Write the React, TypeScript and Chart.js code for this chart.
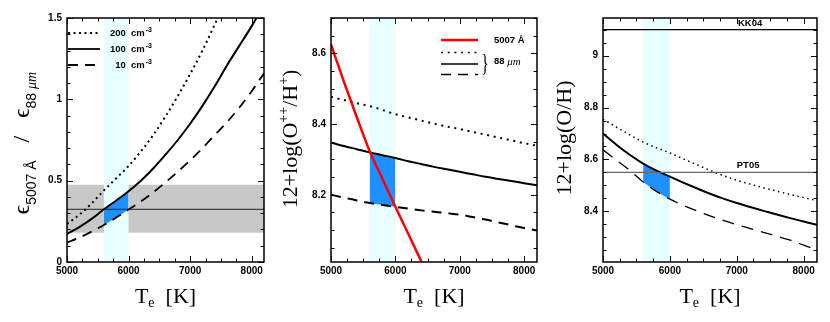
import React, { useEffect, useRef } from 'react';
import { Chart, registerables } from 'chart.js';
Chart.register(...registerables);

// ---------- data ----------
const temps = [5000, 5200, 5400, 5600, 5800, 6000, 6200, 6400, 6600, 6800, 7000, 7200, 7400, 7600, 7800, 8000, 8200];

// Panel 1: emissivity ratio
const ratio200 = [0.234, 0.29, 0.36, 0.44, 0.515, 0.59, 0.68, 0.78, 0.895, 1.02, 1.155, 1.3, 1.46, 1.63, 1.81, 2.0, 2.2];
const ratio100 = [0.172, 0.215, 0.265, 0.324, 0.378, 0.435, 0.5, 0.575, 0.66, 0.75, 0.85, 0.96, 1.08, 1.21, 1.33, 1.45, 1.58];
const ratio10 = [0.119, 0.15, 0.187, 0.228, 0.273, 0.322, 0.372, 0.428, 0.49, 0.555, 0.625, 0.7, 0.78, 0.86, 0.95, 1.05, 1.16];
const ratioObs = 0.324;
const ratioObsRange = [0.18, 0.475];
const teBand = [5600, 6000];

// Panel 2: 12+log(O++/H+)
const temps5007 = [5000, 5200, 5400, 5600, 5800, 6000, 6200, 6400, 6600];
const opp5007 = [8.625, 8.52, 8.42, 8.324, 8.245, 8.166, 8.09, 8.013, 7.94];
const opp200 = [8.477, 8.468, 8.459, 8.451, 8.44, 8.428, 8.419, 8.41, 8.401, 8.393, 8.386, 8.378, 8.37, 8.362, 8.354, 8.346, 8.339];
const opp100 = [8.348, 8.338, 8.329, 8.32, 8.312, 8.304, 8.295, 8.287, 8.279, 8.272, 8.265, 8.258, 8.251, 8.245, 8.239, 8.233, 8.227];
const opp10 = [8.2, 8.192, 8.184, 8.177, 8.171, 8.166, 8.161, 8.156, 8.152, 8.148, 8.144, 8.137, 8.13, 8.122, 8.114, 8.106, 8.099];

// Panel 3: 12+log(O/H)
const oh200 = [8.755, 8.725, 8.695, 8.667, 8.645, 8.625, 8.602, 8.58, 8.558, 8.538, 8.52, 8.505, 8.491, 8.478, 8.465, 8.453, 8.442];
const oh100 = [8.7, 8.657, 8.618, 8.584, 8.557, 8.534, 8.511, 8.489, 8.468, 8.449, 8.432, 8.417, 8.402, 8.388, 8.374, 8.361, 8.348];
const oh10 = [8.637, 8.597, 8.558, 8.513, 8.477, 8.447, 8.423, 8.402, 8.383, 8.365, 8.349, 8.334, 8.319, 8.304, 8.289, 8.27, 8.25];
const kk04 = 9.1;
const pt05 = 8.55;

// ticks
const xRange = [5000, 8200];
const xTickLabels = [5000, 6000, 7000, 8000];
const yTicks1 = [0, 0.5, 1, 1.5];
const yTicks2 = [8.2, 8.4, 8.6];
const yTicks3 = [8.4, 8.6, 8.8, 9];
const densityLabels = ['200', '100', '10'];

// ---------- helpers ----------
const pts = (xs: number[], ys: number[]) => xs.map((x, i) => ({ x, y: ys[i] }));
const bandPts = (ys: number[]) =>
  temps.map((x, i) => ({ x, y: ys[i] })).filter((p) => p.x >= teBand[0] && p.x <= teBand[1]);

const BLUE = 'rgb(30,144,255)';
const CYAN = 'rgb(232,255,255)';
const SANS = '"Liberation Sans", Arial, sans-serif';
const SERIF = '"Liberation Serif", "DejaVu Serif", serif';

type Seg = { t: string; f: string; dy?: number };

function drawRich(ctx: CanvasRenderingContext2D, segs: Seg[], cx: number, cy: number, rot: boolean) {
  ctx.save();
  ctx.translate(cx, cy);
  if (rot) ctx.rotate(-Math.PI / 2);
  let w = 0;
  for (const s of segs) {
    ctx.font = s.f;
    w += ctx.measureText(s.t).width;
  }
  let x = -w / 2;
  ctx.textAlign = 'left';
  ctx.textBaseline = 'alphabetic';
  ctx.fillStyle = '#000';
  for (const s of segs) {
    ctx.font = s.f;
    ctx.fillText(s.t, x, s.dy || 0);
    x += ctx.measureText(s.t).width;
  }
  ctx.restore();
}

type Spec = {
  width: number;
  left: number;
  rightPad: number;
  yMin: number;
  yMax: number;
  yTicks: number[];
  yMinor: number;
  yMajor: number;
  datasets: any[];
  grayBand?: number[];
  yTitle: Seg[];
  yTitleX: number;
  yTitleY: number;
  extra?: (ctx: CanvasRenderingContext2D, chart: any) => void;
};

function drawTicks(ctx: CanvasRenderingContext2D, chart: any, spec: Spec) {
  const a = chart.chartArea;
  const xs = chart.scales.x;
  const ys = chart.scales.y;
  ctx.save();
  ctx.strokeStyle = '#000';
  ctx.lineWidth = 1;
  const xMinor = 250;
  const xMajor = 1000;
  for (let k = Math.ceil(xRange[0] / xMinor); k <= Math.floor(xRange[1] / xMinor); k++) {
    const v = k * xMinor;
    const major = Math.abs(v / xMajor - Math.round(v / xMajor)) < 1e-6;
    const len = major ? 6 : 3.5;
    const px = Math.round(xs.getPixelForValue(v)) + 0.5;
    ctx.beginPath();
    ctx.moveTo(px, a.bottom);
    ctx.lineTo(px, a.bottom - len);
    ctx.moveTo(px, a.top);
    ctx.lineTo(px, a.top + len);
    ctx.stroke();
  }
  for (let k = Math.ceil(spec.yMin / spec.yMinor - 1e-6); k <= Math.floor(spec.yMax / spec.yMinor + 1e-6); k++) {
    const v = k * spec.yMinor;
    const major = Math.abs(v / spec.yMajor - Math.round(v / spec.yMajor)) < 1e-6;
    const len = major ? 6 : 3.5;
    const py = Math.round(ys.getPixelForValue(v)) + 0.5;
    ctx.beginPath();
    ctx.moveTo(a.left, py);
    ctx.lineTo(a.left + len, py);
    ctx.moveTo(a.right, py);
    ctx.lineTo(a.right - len, py);
    ctx.stroke();
  }
  ctx.lineWidth = 1.5;
  ctx.strokeRect(a.left, a.top, a.right - a.left, a.bottom - a.top);
  ctx.restore();
}

function makePanel(canvas: HTMLCanvasElement, spec: Spec) {
  const plugin = {
    id: 'panelDecor',
    beforeDatasetsDraw(chart: any) {
      const { ctx, chartArea: a } = chart;
      const xs = chart.scales.x;
      const ys = chart.scales.y;
      ctx.save();
      ctx.beginPath();
      ctx.rect(a.left, a.top, a.right - a.left, a.bottom - a.top);
      ctx.clip();
      if (spec.grayBand) {
        const y1 = ys.getPixelForValue(spec.grayBand[1]);
        const y0 = ys.getPixelForValue(spec.grayBand[0]);
        ctx.fillStyle = 'rgb(200,200,200)';
        ctx.fillRect(a.left, y1, a.right - a.left, y0 - y1);
      }
      const x0 = xs.getPixelForValue(teBand[0]);
      const x1 = xs.getPixelForValue(teBand[1]);
      ctx.fillStyle = CYAN;
      ctx.fillRect(x0, a.top, x1 - x0, a.bottom - a.top);
      ctx.restore();
    },
    afterDatasetsDraw(chart: any) {
      drawTicks(chart.ctx, chart, spec);
    },
    afterDraw(chart: any) {
      const ctx = chart.ctx;
      const a = chart.chartArea;
      const cx = (a.left + a.right) / 2;
      drawRich(
        ctx,
        [
          { t: 'T', f: `22px ${SERIF}` },
          { t: 'e', f: `14px ${SERIF}`, dy: 4 },
          { t: '  [K]', f: `22px ${SERIF}` },
        ],
        cx,
        303,
        false
      );
      drawRich(ctx, spec.yTitle, spec.yTitleX, spec.yTitleY, true);
      if (spec.extra) spec.extra(ctx, chart);
    },
  };

  return new Chart(canvas, {
    type: 'line',
    data: { datasets: spec.datasets },
    plugins: [plugin],
    options: {
      animation: false,
      responsive: false,
      maintainAspectRatio: false,
      parsing: false as any,
      layout: { padding: { left: 0, right: spec.rightPad, top: 18, bottom: 0 } },
      plugins: { legend: { display: false }, tooltip: { enabled: false } },
      elements: { point: { radius: 0 }, line: { cubicInterpolationMode: 'monotone' } },
      scales: {
        x: {
          type: 'linear',
          min: xRange[0],
          max: xRange[1],
          grid: { display: false, drawTicks: false },
          border: { display: false },
          afterFit: (s: any) => {
            s.height = 60;
          },
          afterBuildTicks: (s: any) => {
            s.ticks = xTickLabels.map((v) => ({ value: v }));
          },
          ticks: {
            autoSkip: false,
            maxRotation: 0,
            padding: 3,
            color: '#000',
            font: { family: SANS, size: 10, weight: 'bold' },
            callback: (v: any) => String(v),
          },
        },
        y: {
          type: 'linear',
          min: spec.yMin,
          max: spec.yMax,
          grid: { display: false, drawTicks: false },
          border: { display: false },
          afterFit: (s: any) => {
            s.width = spec.left;
          },
          afterBuildTicks: (s: any) => {
            s.ticks = spec.yTicks.map((v) => ({ value: v }));
          },
          ticks: {
            autoSkip: false,
            padding: 5,
            color: '#000',
            font: { family: SANS, size: 10, weight: 'bold' },
            callback: (v: any) => String(Math.round(v * 100) / 100),
          },
        },
      },
    } as any,
  });
}

function lineDs(data: any[], opts: any) {
  return { data, borderColor: '#000', borderWidth: 2, pointRadius: 0, fill: false, clip: 0, ...opts };
}

function fillPair(top: number[], bottom: number[]) {
  return [
    lineDs(bandPts(top), { borderWidth: 0, borderColor: 'rgba(0,0,0,0)', backgroundColor: BLUE, fill: '+1' }),
    lineDs(bandPts(bottom), { borderWidth: 0, borderColor: 'rgba(0,0,0,0)' }),
  ];
}

function legendLine(ctx: CanvasRenderingContext2D, x0: number, x1: number, y: number, dash: number[], width: number, color = '#000') {
  ctx.save();
  ctx.strokeStyle = color;
  ctx.lineWidth = width;
  ctx.setLineDash(dash);
  ctx.beginPath();
  ctx.moveTo(x0, y);
  ctx.lineTo(x1, y);
  ctx.stroke();
  ctx.restore();
}

const D1 = { dot: [2, 3.5], dash: [10, 7] };
const D2 = { dot: [2, 4.7], dash: [10, 7] };
const D3 = { dot: [1.5, 3.5], dash: [12, 8] };

export default function App() {
  const r1 = useRef<HTMLCanvasElement>(null);
  const r2 = useRef<HTMLCanvasElement>(null);
  const r3 = useRef<HTMLCanvasElement>(null);

  useEffect(() => {
    const c1 = makePanel(r1.current!, {
      width: 277,
      left: 67,
      rightPad: 13,
      yMin: 0,
      yMax: 1.5,
      yTicks: yTicks1,
      yMinor: 0.1,
      yMajor: 0.5,
      grayBand: ratioObsRange,
      yTitle: [
        { t: 'ϵ', f: `23px ${SERIF}` },
        { t: '5007 Å', f: `14px ${SANS}`, dy: 7 },
        { t: '   /   ', f: `24px ${SERIF}` },
        { t: 'ϵ', f: `23px ${SERIF}` },
        { t: '88 ', f: `14px ${SANS}`, dy: 7 },
        { t: 'μm', f: `italic 14px ${SERIF}`, dy: 7 },
      ],
      yTitleX: 29,
      yTitleY: 143,
      datasets: [
        lineDs(pts(temps, ratio200), { borderDash: D1.dot }),
        lineDs(pts(temps, ratio100), {}),
        lineDs(pts(temps, ratio10), { borderDash: D1.dash, borderWidth: 1.8 }),
        lineDs(pts(xRange, [ratioObs, ratioObs]), { borderWidth: 1, borderColor: '#222' }),
        ...fillPair(ratio100, ratio10),
      ],
      extra: (ctx) => {
        const ys = [33, 49, 65];
        const dashes = [D1.dot, [], D1.dash];
        ys.forEach((y, i) => {
          legendLine(ctx, 68, 100, y, dashes[i], 1.8);
          ctx.save();
          ctx.fillStyle = '#000';
          ctx.textBaseline = 'middle';
          ctx.textAlign = 'right';
          ctx.font = `bold 7px ${SANS}`;
          ctx.fillText('-3', 152, y - 3);
          const w = ctx.measureText('-3').width;
          ctx.font = `bold 9.5px ${SANS}`;
          ctx.fillText(`${densityLabels[i]}  cm`, 152 - w - 1, y + 0.5);
          ctx.restore();
        });
      },
    });

    const c2 = makePanel(r2.current!, {
      width: 277,
      left: 54,
      rightPad: 17,
      yMin: 8.01,
      yMax: 8.7,
      yTicks: yTicks2,
      yMinor: 0.05,
      yMajor: 0.2,
      yTitle: [
        { t: '12+log(O', f: `22px ${SERIF}` },
        { t: '++', f: `14px ${SERIF}`, dy: -9 },
        { t: '/H', f: `22px ${SERIF}` },
        { t: '+', f: `14px ${SERIF}`, dy: -9 },
        { t: ')', f: `22px ${SERIF}` },
      ],
      yTitleX: 297 - 277,
      yTitleY: 139,
      datasets: [
        lineDs(pts(temps5007, opp5007), { borderColor: 'rgb(255,0,0)', borderWidth: 2.5 }),
        lineDs(pts(temps, opp200), { borderDash: D2.dot }),
        lineDs(pts(temps, opp100), {}),
        lineDs(pts(temps, opp10), { borderDash: D2.dash }),
        ...fillPair(opp100, opp10),
      ],
      extra: (ctx) => {
        const o = 277;
        legendLine(ctx, 441 - o, 478 - o, 40, [], 2.5, 'rgb(255,0,0)');
        legendLine(ctx, 441 - o, 478 - o, 52.5, D2.dot, 1.6);
        legendLine(ctx, 441 - o, 478 - o, 64, [], 1.6);
        legendLine(ctx, 441 - o, 478 - o, 74.5, D2.dash, 1.6);
        ctx.save();
        ctx.fillStyle = '#000';
        ctx.textBaseline = 'middle';
        ctx.textAlign = 'left';
        ctx.font = `bold 9.5px ${SANS}`;
        ctx.fillText('5007 Å', 494 - o, 40.5);
        ctx.fillText('88 ', 494 - o, 61.5);
        const w = ctx.measureText('88 ').width;
        ctx.font = `italic 11px ${SERIF}`;
        ctx.fillText('μm', 494 - o + w, 62);
        ctx.translate(485 - o, 64);
        ctx.scale(0.6, 1);
        ctx.font = `26px ${SERIF}`;
        ctx.textAlign = 'center';
        ctx.fillText('}', 0, 0);
        ctx.restore();
      },
    });

    const c3 = makePanel(r3.current!, {
      width: 276,
      left: 49,
      rightPad: 13,
      yMin: 8.205,
      yMax: 9.145,
      yTicks: yTicks3,
      yMinor: 0.05,
      yMajor: 0.2,
      yTitle: [{ t: '12+log(O/H)', f: `22px ${SERIF}` }],
      yTitleX: 571 - 554,
      yTitleY: 138,
      datasets: [
        lineDs(pts(xRange, [kk04, kk04]), { borderWidth: 1.2, borderColor: '#000' }),
        lineDs(pts(xRange, [pt05, pt05]), { borderWidth: 1.2, borderColor: '#666' }),
        lineDs(pts(temps, oh200), { borderDash: D3.dot, borderWidth: 1.5 }),
        lineDs(pts(temps, oh100), {}),
        lineDs(pts(temps, oh10), { borderDash: D3.dash, borderWidth: 1.3 }),
        ...fillPair(oh100, oh10),
      ],
      extra: (ctx, chart) => {
        const xs = chart.scales.x;
        const ys = chart.scales.y;
        ctx.save();
        ctx.fillStyle = '#000';
        ctx.textAlign = 'center';
        ctx.textBaseline = 'alphabetic';
        ctx.font = `bold 9.5px ${SANS}`;
        const lx = xs.getPixelForValue(7200);
        ctx.fillText('KK04', lx, ys.getPixelForValue(kk04) - 4);
        ctx.fillText('PT05', lx - 2, ys.getPixelForValue(pt05) - 4);
        ctx.restore();
      },
    });

    return () => {
      c1.destroy();
      c2.destroy();
      c3.destroy();
    };
  }, []);

  const box = (left: number, width: number, ref: any) => (
    <div style={{ position: 'absolute', left, top: 0, width, height: 322 }}>
      <canvas ref={ref} width={width} height={322} style={{ width, height: 322, display: 'block' }} />
    </div>
  );

  return (
    <div style={{ position: 'absolute', left: 0, top: 0, width: 830, height: 322, background: '#fff', overflow: 'hidden' }}>
      {box(0, 277, r1)}
      {box(277, 277, r2)}
      {box(554, 276, r3)}
    </div>
  );
}
